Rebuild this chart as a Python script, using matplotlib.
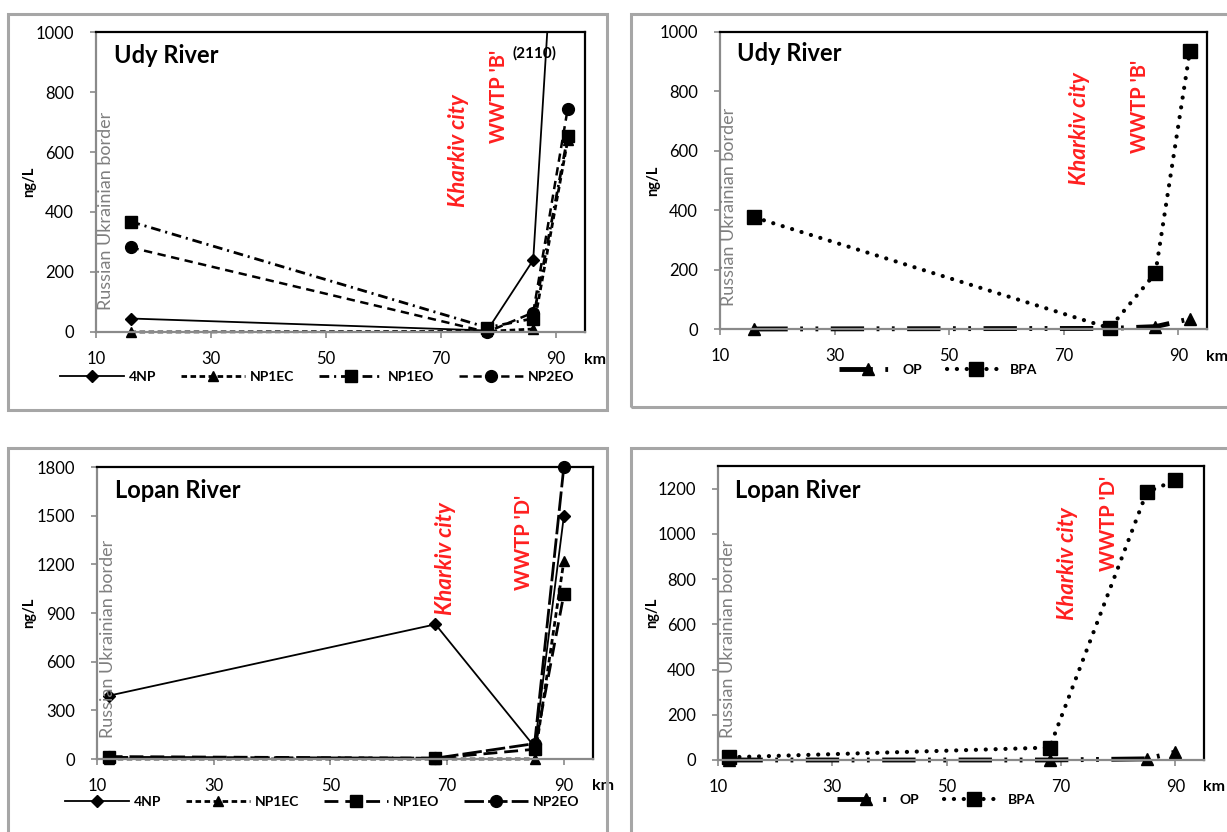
import matplotlib
matplotlib.use("Agg")
import matplotlib.pyplot as plt
from matplotlib.patches import Rectangle

plt.rcParams['font.family'] = ['Lato', 'DejaVu Sans']
plt.rcParams['lines.scale_dashes'] = False

# ---------------- data ----------------
udy_km = [16, 78, 86, 92]
udy_4np = [45, 5, 240, 2110]
udy_np1ec = [0, 2, 10, 640]
udy_np1eo = [368, 15, 45, 652]
udy_np2eo = [282, 0, 65, 745]
udy_op = [0, 2, 8, 34]
udy_bpa = [376, 3, 188, 935]

lopan_km = [12, 68, 85, 90]
lopan_4np = [390, 830, 75, 1495]
lopan_np1ec = [0, 0, 0, 1220]
lopan_np1eo = [15, 5, 60, 1015]
lopan_np2eo = [10, 5, 95, 1800]
lopan_op = [0, 0, 5, 35]
lopan_bpa = [12, 55, 1185, 1236]

x_ticks = [10, 30, 50, 70, 90]

W, H = 1227, 832
fig = plt.figure(figsize=(W / 100, H / 100), dpi=100)


def px_axes(l, t, r, b):
    return fig.add_axes([l / W, 1 - b / H, (r - l) / W, (b - t) / H])


def box(l, t, r, b):
    fig.add_artist(Rectangle((l / W, 1 - b / H), (r - l) / W, (b - t) / H,
                             transform=fig.transFigure, fill=False,
                             ec='#a6a6a6', lw=2.2))


box(8, 14, 607, 410)
box(631, 14, 1240, 407)
box(8, 448, 607, 845)
box(631, 448, 1240, 845)

ax_tl = px_axes(96, 32, 585, 332)
ax_tr = px_axes(720, 32, 1207, 329)
ax_bl = px_axes(97, 467, 593, 759)
ax_br = px_axes(718, 466, 1204, 760)


def style(ax, ymax, yticks):
    ax.set_xlim(10, 95)
    ax.set_ylim(0, ymax)
    ax.set_xticks(x_ticks)
    ax.set_yticks(yticks)
    for s in ['top', 'right']:
        ax.spines[s].set_color('black')
        ax.spines[s].set_linewidth(1.6)
    for s in ['left', 'bottom']:
        ax.spines[s].set_color('#8a8a8a')
        ax.spines[s].set_linewidth(1.6)
    ax.tick_params(axis='y', direction='out', length=4.5, width=1.2,
                   color='#8a8a8a', labelsize=12, pad=11.5)
    ax.tick_params(axis='x', direction='out', length=4, width=1.2,
                   color='#8a8a8a', labelsize=12, pad=10)
    ax.set_ylabel('ng/L', fontsize=10.5, fontweight='bold')
    ax.yaxis.set_label_coords(-0.122, 0.5)
    ax.text(0.997, -0.093, 'km', transform=ax.transAxes, fontsize=11.5,
            fontweight='bold', ha='left', va='center')


def border_text(ax, x, y):
    ax.text(x, y, 'Russian Ukrainian border', rotation=90, color='#7f7f7f',
            fontsize=13, ha='center', va='bottom')


def red_text(ax, x, y, s, italic, size):
    ax.text(x, y, s, rotation=90, color='#ff2020', fontsize=size,
            fontweight='bold', fontstyle='italic' if italic else 'normal',
            ha='center', va='center')


def title(ax, x, y, s):
    ax.text(x, y, s, transform=ax.transAxes, fontsize=17, fontweight='bold',
            ha='left', va='center')


def legend(ax, x, y, ncol, hl):
    ax.legend(loc='center', bbox_to_anchor=(x, y), ncol=ncol, frameon=False,
              handlelength=hl, columnspacing=1.8, handletextpad=0.35,
              prop={'weight': 'bold', 'size': 10})


mk = dict(color='black', mec='black', mfc='black')
KS = 16    # Kharkiv city font size
WS = 14.5  # WWTP font size

# ---------- top-left ----------
ax = ax_tl
style(ax, 1000, [0, 200, 400, 600, 800, 1000])
ax.plot(udy_km, udy_4np, '-', lw=1.3, marker='D', ms=6, label='4NP', **mk)
ax.plot(udy_km, udy_np1ec, lw=2, dashes=(4, 2.5), marker='^', ms=7.5,
        label='NP1EC', clip_on=False, **mk)
ax.plot(udy_km, udy_np1eo, lw=2, dashes=(7, 3.5, 1.5, 3.5), marker='s', ms=8.5,
        label='NP1EO', clip_on=False, **mk)
ax.plot(udy_km, udy_np2eo, lw=1.8, dashes=(6, 4), marker='o', ms=8.5,
        label='NP2EO', clip_on=False, **mk)
title(ax, 0.036, 0.922, 'Udy River')
border_text(ax, 11.7, 75)
red_text(ax, 73, 606, 'Kharkiv city', True, KS)
red_text(ax, 80, 786, "WWTP 'B'", False, WS)
ax.text(86.3, 928, '(2110)', fontsize=11, fontweight='bold', ha='center',
        va='center')
legend(ax, 0.452, -0.15, 4, 4.6)

# ---------- top-right ----------
ax = ax_tr
style(ax, 1000, [0, 200, 400, 600, 800, 1000])
ax.plot(udy_km, udy_op, lw=3.5, dashes=(24, 9, 2, 9, 2, 9), marker='^', ms=8.5,
        label='OP', clip_on=False, **mk)
ax.plot(udy_km, udy_bpa, lw=3, dashes=(0.1, 7), dash_capstyle='round',
        marker='s', ms=9.5, label='BPA', clip_on=False, **mk)
title(ax, 0.035, 0.926, 'Udy River')
border_text(ax, 11.6, 76)
red_text(ax, 72.8, 674, 'Kharkiv city', True, KS)
red_text(ax, 83.3, 750, "WWTP 'B'", False, WS)
legend(ax, 0.448, -0.138, 2, 4.2)

# ---------- bottom-left ----------
ax = ax_bl
style(ax, 1800, [0, 300, 600, 900, 1200, 1500, 1800])
ax.plot(lopan_km, lopan_4np, '-', lw=1.3, marker='D', ms=6, label='4NP',
        clip_on=False, **mk)
ax.plot(lopan_km, lopan_np1ec, lw=2, dashes=(4, 2.5), marker='^', ms=7.5,
        label='NP1EC', clip_on=False, **mk)
ax.plot(lopan_km, lopan_np1eo, lw=2, dashes=(10, 5), marker='s', ms=8.5,
        label='NP1EO', clip_on=False, **mk)
ax.plot(lopan_km, lopan_np2eo, lw=2, dashes=(14, 3), marker='o', ms=8.5,
        label='NP2EO', clip_on=False, **mk)
title(ax, 0.037, 0.92, 'Lopan River')
border_text(ax, 11.8, 129)
red_text(ax, 69.8, 1236, 'Kharkiv city', True, KS)
red_text(ax, 83.1, 1334, "WWTP 'D'", False, WS)
legend(ax, 0.454, -0.147, 4, 4.6)

# ---------- bottom-right ----------
ax = ax_br
style(ax, 1300, [0, 200, 400, 600, 800, 1000, 1200])
ax.plot(lopan_km, lopan_op, lw=3.5, dashes=(24, 9, 2, 9, 2, 9), marker='^',
        ms=8.5, label='OP', clip_on=False, **mk)
ax.plot(lopan_km, lopan_bpa, lw=3, dashes=(0.1, 7), dash_capstyle='round',
        marker='s', ms=9.5, label='BPA', clip_on=False, **mk)
title(ax, 0.036, 0.918, 'Lopan River')
border_text(ax, 11.8, 96)
red_text(ax, 71.1, 869, 'Kharkiv city', True, KS)
red_text(ax, 78.4, 1044, "WWTP 'D'", False, WS)
legend(ax, 0.448, -0.136, 2, 4.2)

fig.savefig('out.png', dpi=100)
